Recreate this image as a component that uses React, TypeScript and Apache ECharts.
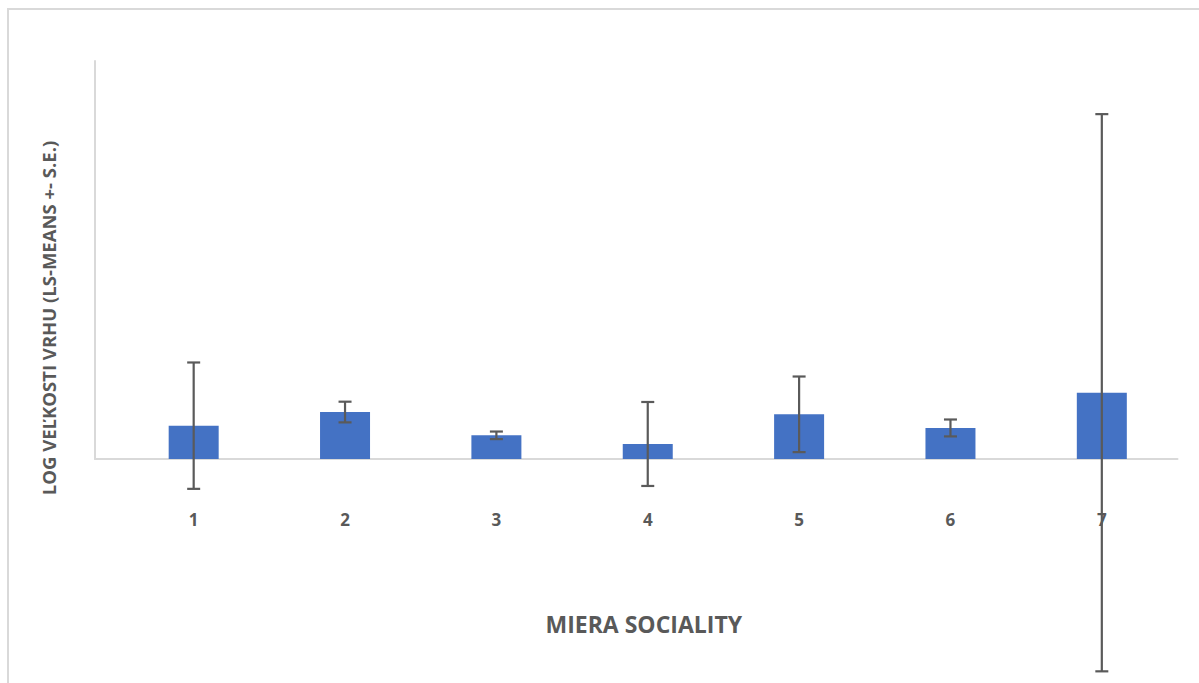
import React, { useEffect, useRef } from "react";
import * as echarts from "echarts";

// Social level categories on the x axis
const categories = ["1", "2", "3", "4", "5", "6", "7"];
// Least-squares means of log litter size
const lsMeans = [0.335, 0.472, 0.238, 0.151, 0.449, 0.312, 0.666];
// Standard errors drawn as +/- error bars
const standardErrors = [0.635, 0.104, 0.038, 0.422, 0.38, 0.085, 2.8];

const xTitle = "MIERA SOCIALITY";
const yTitle = "LOG VEĽKOSTI VRHU (LS-MEANS +- S.E.)";

const TEXT = "#595959";
const AXIS = "#d9d9d9";
const BAR = "#4472C4";
const ERR = "#5a5a5a";
const FONT = "'Open Sans', 'Noto Sans', sans-serif";

export default function App() {
  const ref = useRef<HTMLDivElement>(null);

  useEffect(() => {
    if (!ref.current) return;
    const chart = echarts.init(ref.current, undefined, { renderer: "svg" });

    const errData = categories.map((c, i) => [
      i,
      lsMeans[i] - standardErrors[i],
      lsMeans[i] + standardErrors[i],
    ]);

    chart.setOption({
      animation: false,
      backgroundColor: "transparent",
      grid: [
        // frame grid: carries the visible axis lines
        { left: 95, right: 21.5, top: 61, bottom: 224 },
        // data grid: bars and error bars
        { left: 118, right: 21.5, top: 61, bottom: 224 },
      ],
      xAxis: [
        {
          gridIndex: 0,
          type: "value",
          min: 0,
          max: 1,
          axisLine: { show: true, lineStyle: { color: AXIS, width: 2 } },
          axisTick: { show: false },
          axisLabel: { show: false },
          splitLine: { show: false },
        },
        {
          gridIndex: 1,
          type: "category",
          data: categories,
          axisLine: { show: false },
          axisTick: { show: false },
          axisLabel: {
            color: TEXT,
            fontFamily: FONT,
            fontWeight: "bold",
            fontSize: 17,
            margin: 52,
          },
          name: xTitle,
          nameLocation: "middle",
          nameGap: 153,
          nameTextStyle: {
            color: TEXT,
            fontFamily: FONT,
            fontWeight: "bold",
            fontSize: 23,
            padding: [0, 8, 0, 0],
          },
        },
      ],
      yAxis: [
        {
          gridIndex: 0,
          type: "value",
          min: 0,
          max: 4,
          axisLine: { show: true, lineStyle: { color: AXIS, width: 2 } },
          axisTick: { show: false },
          axisLabel: { show: false },
          splitLine: { show: false },
        },
        {
          gridIndex: 1,
          type: "value",
          min: 0,
          max: 4,
          show: false,
          splitLine: { show: false },
        },
      ],
      graphic: [
        {
          type: "text",
          x: 48,
          y: 318,
          rotation: Math.PI / 2,
          style: {
            text: yTitle,
            fill: TEXT,
            font: `bold 18.5px ${FONT}`,
            textAlign: "center",
            textVerticalAlign: "middle",
          },
        },
      ],
      series: [
        {
          type: "bar",
          xAxisIndex: 1,
          yAxisIndex: 1,
          data: lsMeans,
          barWidth: 50,
          itemStyle: { color: BAR },
          z: 3,
        },
        {
          type: "custom",
          xAxisIndex: 1,
          yAxisIndex: 1,
          data: errData,
          clip: false,
          z: 5,
          renderItem: (params: any, api: any) => {
            const x = api.value(0);
            const lo = api.coord([x, api.value(1)]);
            const hi = api.coord([x, api.value(2)]);
            const cap = 6.5;
            const style = { stroke: ERR, lineWidth: 2.2 };
            return {
              type: "group",
              children: [
                {
                  type: "line",
                  shape: { x1: lo[0], y1: lo[1], x2: hi[0], y2: hi[1] },
                  style,
                },
                {
                  type: "line",
                  shape: { x1: hi[0] - cap, y1: hi[1], x2: hi[0] + cap, y2: hi[1] },
                  style,
                },
                {
                  type: "line",
                  shape: { x1: lo[0] - cap, y1: lo[1], x2: lo[0] + cap, y2: lo[1] },
                  style,
                },
              ],
            };
          },
        },
      ],
    });

    return () => chart.dispose();
  }, []);

  return (
    <div
      style={{
        position: "fixed",
        left: 0,
        top: 0,
        width: 1199,
        height: 683,
        overflow: "hidden",
        background: "#fff",
      }}
    >
      <div
        style={{
          position: "absolute",
          left: 7,
          top: 8,
          width: 1300,
          height: 800,
          border: `2px solid ${AXIS}`,
        }}
      />
      <div
        ref={ref}
        style={{ position: "absolute", left: 0, top: 0, width: 1199, height: 683 }}
      />
    </div>
  );
}
